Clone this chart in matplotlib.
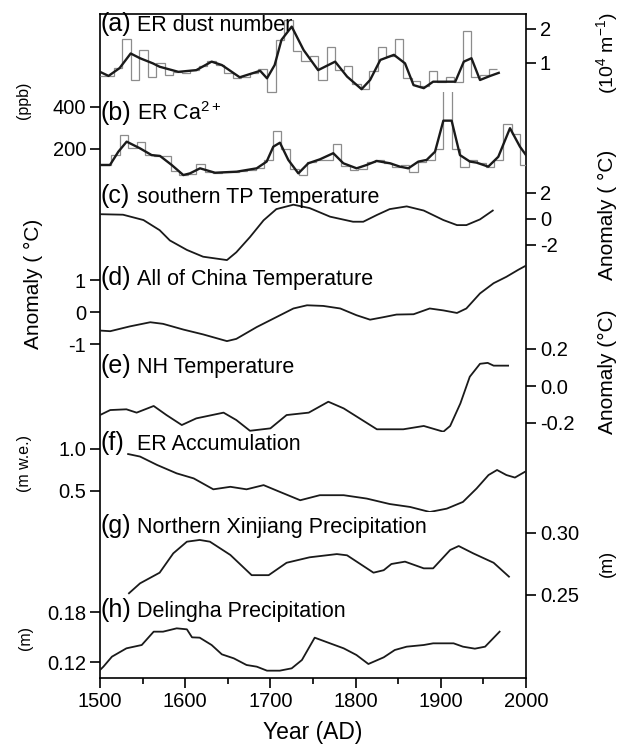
import matplotlib
matplotlib.use('Agg')

from matplotlib import pyplot as plt
from matplotlib.ticker import MultipleLocator

plt.rcParams['font.family'] = ['Liberation Sans', 'DejaVu Sans']
plt.rcParams['mathtext.fontset'] = 'custom'
plt.rcParams['mathtext.rm'] = 'Liberation Sans'
plt.rcParams['mathtext.default'] = 'regular'
plt.rcParams['axes.unicode_minus'] = False

# (a) ER dust number, decadal steps (10^4 m^-1) and smoothed curve
dust_edges = [1500, 1516, 1526, 1536, 1546, 1556, 1566, 1576, 1586, 1596,
              1606, 1616, 1626, 1636, 1646, 1656, 1666, 1676, 1686, 1696,
              1706, 1716, 1726, 1736, 1746, 1756, 1766, 1776, 1786, 1796,
              1806, 1816, 1826, 1836, 1846, 1856, 1866, 1876, 1886, 1896,
              1906, 1916, 1926, 1936, 1946, 1956, 1966]
dust_steps = [0.62, 0.84, 1.70, 0.50, 1.38, 0.60, 0.99, 0.65, 0.75, 0.72,
              0.80, 0.92, 1.06, 0.94, 0.72, 0.55, 0.60, 0.72, 0.82, 0.15,
              1.68, 2.27, 1.35, 1.05, 1.20, 0.51, 1.47, 0.79, 0.90, 0.37,
              0.25, 0.76, 1.47, 1.20, 1.72, 0.55, 0.46, 0.33, 0.76, 0.43,
              0.58, 0.43, 1.94, 0.60, 0.65, 0.83]
dust_years = [1500, 1510, 1523, 1536, 1547, 1562, 1570, 1592, 1613, 1631,
              1643, 1664, 1688, 1696, 1705, 1713, 1725, 1739, 1756, 1776,
              1790, 1807, 1817, 1829, 1845, 1858, 1868, 1880, 1891, 1917,
              1927, 1936, 1946, 1958, 1968]
dust_smooth = [0.74, 0.62, 0.85, 1.28, 1.14, 0.99, 0.89, 0.74, 0.79, 1.04,
               0.94, 0.58, 0.77, 0.55, 0.94, 1.68, 2.07, 1.38, 0.79, 1.04,
               0.60, 0.23, 0.50, 1.09, 1.24, 0.99, 0.35, 0.26, 0.45, 0.45,
               1.04, 1.14, 0.50, 0.62, 0.71]

# (b) ER Ca2+ (ppb)
ca_edges = [1500, 1513, 1523, 1533, 1543, 1553, 1563, 1573, 1583, 1593,
            1603, 1613, 1623, 1633, 1643, 1653, 1663, 1673, 1683, 1693,
            1703, 1713, 1723, 1733, 1743, 1753, 1763, 1773, 1783, 1793,
            1803, 1813, 1823, 1833, 1843, 1853, 1863, 1873, 1883, 1893,
            1903, 1913, 1923, 1933, 1943, 1953, 1963, 1973, 1983, 1993, 2000]
ca_steps = [124, 170, 265, 205, 232, 172, 168, 165, 95, 76,
            80, 128, 92, 88, 90, 92, 95, 100, 110, 150,
            285, 200, 105, 78, 140, 150, 150, 222, 120, 100,
            105, 140, 150, 135, 115, 125, 90, 140, 150, 200,
            530, 200, 115, 150, 135, 115, 150, 320, 270, 124]
ca_years = [1500, 1511.7, 1521.5, 1531.3, 1547, 1560.6, 1570.4, 1584.1, 1597.8, 1605.6,
            1617.4, 1635, 1660.4, 1683.9, 1695.6, 1703.4, 1711.2, 1721, 1732.8, 1744.5,
            1758.2, 1773.8, 1785.6, 1801.2, 1813, 1824.7, 1840.4, 1852, 1861.9, 1873.6,
            1883.4, 1893.2, 1903, 1912.7, 1922.5, 1934.2, 1942.1, 1955.7, 1967.5, 1981.2,
            1992.9, 2000]
ca_smooth = [124, 124, 187, 235, 203, 171, 167, 124, 76, 84,
             108, 87, 92, 108, 140, 211, 230, 148, 84, 132,
             151, 180, 132, 108, 124, 143, 132, 116, 108, 140,
             148, 187, 335, 335, 171, 140, 135, 116, 163, 299,
             211, 171]

# (c) southern TP temperature anomaly (degC)
tp_years = [1500, 1527, 1551, 1570, 1582, 1602, 1621, 1649, 1660, 1676,
            1692, 1707, 1727, 1746, 1770, 1797, 1809, 1825, 1840, 1860,
            1880, 1903, 1919, 1930, 1946, 1961]
tp_temp = [0.37, 0.33, -0.08, -0.86, -1.65, -2.38, -2.90, -3.16, -2.56, -1.39,
           -0.10, 0.76, 1.10, 0.84, 0.18, -0.21, -0.21, 0.31, 0.76, 0.97,
           0.65, -0.08, -0.47, -0.47, -0.03, 0.65]

# (d) All of China temperature anomaly (degC)
china_years = [1500, 1512, 1535, 1559, 1574, 1598, 1621, 1649, 1660, 1684,
               1707, 1727, 1743, 1762, 1782, 1801, 1817, 1833, 1848, 1868,
               1887, 1903, 1919, 1930, 1946, 1962, 1977, 1991, 2000]
china_temp = [-0.58, -0.60, -0.45, -0.32, -0.37, -0.55, -0.70, -0.91, -0.84, -0.47,
              -0.16, 0.11, 0.21, 0.19, 0.11, -0.10, -0.24, -0.16, -0.08, -0.07,
              0.11, 0.05, -0.03, 0.11, 0.58, 0.90, 1.10, 1.32, 1.45]

# (e) NH temperature anomaly (degC)
nh_years = [1500, 1512, 1531, 1543, 1563, 1578, 1596, 1613, 1645, 1660,
            1676, 1700, 1719, 1745, 1768, 1786, 1825, 1856, 1880, 1903,
            1911, 1923, 1934, 1946, 1955, 1962, 1979]
nh_temp = [-0.157, -0.13, -0.126, -0.144, -0.108, -0.157, -0.211, -0.175, -0.144, -0.184,
           -0.242, -0.229, -0.157, -0.144, -0.085, -0.121, -0.234, -0.234, -0.216, -0.247,
           -0.216, -0.094, 0.05, 0.12, 0.125, 0.11, 0.11]

# (f) ER accumulation (m w.e.)
acc_years = [1533, 1547, 1567, 1590, 1610, 1633, 1653, 1672, 1692, 1711,
             1735, 1758, 1786, 1813, 1840, 1864, 1887, 1907, 1926, 1942,
             1956, 1966, 1977, 1987, 1999]
acc_value = [0.94, 0.91, 0.81, 0.71, 0.65, 0.52, 0.55, 0.52, 0.57, 0.49,
             0.39, 0.45, 0.45, 0.41, 0.345, 0.31, 0.25, 0.29, 0.37, 0.53,
             0.69, 0.75, 0.69, 0.66, 0.73]

# (g) Northern Xinjiang precipitation (m)
xj_years = [1534, 1547, 1570, 1586, 1602, 1617, 1629, 1653, 1678, 1698,
            1719, 1746, 1778, 1790, 1821, 1833, 1842, 1858, 1880, 1891,
            1911, 1921, 1938, 1962, 1980]
xj_precip = [0.2514, 0.2594, 0.268, 0.2836, 0.293, 0.2944, 0.293, 0.2823, 0.266, 0.266,
             0.276, 0.2804, 0.283, 0.282, 0.268, 0.270, 0.275, 0.2769, 0.2715, 0.2715,
             0.2863, 0.2895, 0.2836, 0.276, 0.2648]

# (h) Delingha precipitation (m)
dl_years = [1500, 1504, 1514, 1531, 1549, 1563, 1574, 1590, 1602, 1608,
            1617, 1631, 1643, 1657, 1672, 1684, 1696, 1711, 1725, 1737,
            1752, 1770, 1786, 1801, 1815, 1833, 1846, 1860, 1880, 1891,
            1915, 1926, 1940, 1952, 1969]
dl_precip = [0.1104, 0.1144, 0.1264, 0.1364, 0.1404, 0.1564, 0.1564, 0.1604, 0.1592, 0.1496,
             0.1492, 0.1404, 0.1292, 0.1244, 0.1164, 0.1144, 0.1096, 0.1096, 0.1124, 0.1224,
             0.1492, 0.1424, 0.1364, 0.1284, 0.1176, 0.1256, 0.1344, 0.1384, 0.1404, 0.1424,
             0.1424, 0.1384, 0.136, 0.1384, 0.1564]

W, H, DPI = 629, 748, 100
LEFT, RIGHT, TOP, BOTTOM = 100, 526, 14, 678
TICK_FS = 14.5
LINE_W = 1.3


def rect(top, bottom):
    return [LEFT / W, 1 - bottom / H, (RIGHT - LEFT) / W, (bottom - top) / H]


fig = plt.figure(figsize=(W / DPI, H / DPI), dpi=DPI)

frame = fig.add_axes(rect(TOP, BOTTOM))
frame.set_xlim(1500, 2000)
frame.set_yticks([])
frame.xaxis.set_major_locator(MultipleLocator(100))
frame.xaxis.set_minor_locator(MultipleLocator(50))
frame.tick_params(axis='x', which='major', direction='out', length=7, width=1.2,
                  labelsize=TICK_FS, pad=3)
frame.tick_params(axis='x', which='minor', direction='out', length=4.5, width=1.2)
for sp in frame.spines.values():
    sp.set_linewidth(1.2)
frame.set_xlabel('Year (AD)', fontsize=16.5, labelpad=7)


def panel(top, bottom, ref, side, ticks, labels):
    """Transparent band over the frame; ref holds two (value, pixel row) pairs."""
    ax = fig.add_axes(rect(top, bottom))
    ax.set_xlim(1500, 2000)
    (v1, y1), (v2, y2) = ref
    slope = (v2 - v1) / (y2 - y1)
    ax.set_ylim(v1 + slope * (bottom - y1), v1 + slope * (top - y1))
    ax.patch.set_visible(False)
    for sp in ax.spines.values():
        sp.set_visible(False)
    ax.tick_params(axis='x', which='both', bottom=False, labelbottom=False)
    if side == 'right':
        ax.yaxis.tick_right()
    ax.set_yticks(ticks)
    ax.set_yticklabels(labels)
    ax.tick_params(axis='y', direction='out', length=7, width=1.2,
                   labelsize=TICK_FS, pad=3)
    return ax


def title(letter, name, baseline):
    y = 1 - baseline / H
    fig.text(101 / W, y, letter, fontsize=18, va='baseline', ha='left')
    fig.text(137 / W, y, name, fontsize=15.5, va='baseline', ha='left')


def side_label(text, x, y, size):
    fig.text(x / W, 1 - y / H, text, rotation=90, ha='center', va='center',
             fontsize=size)


ax_a = panel(TOP, 97, ((1, 63), (2, 29)), 'right', [1, 2], ['1', '2'])
ax_a.stairs(dust_steps, dust_edges, baseline=None, color='#8c8c8c', lw=0.9)
ax_a.plot(dust_years, dust_smooth, color='#1a1a1a', lw=1.7)

ax_b = panel(92, 180, ((200, 149), (400, 107)), 'left', [200, 400], ['200', '400'])
ax_b.stairs(ca_steps, ca_edges, baseline=None, color='#8c8c8c', lw=0.9)
ax_b.plot(ca_years, ca_smooth, color='#1a1a1a', lw=1.7)

ax_c = panel(180, 265, ((0, 219), (2, 193)), 'right', [-2, 0, 2], ['-2', '0', '2'])
ax_c.plot(tp_years, tp_temp, color='#1a1a1a', lw=LINE_W)

ax_d = panel(262, 355, ((0, 312), (1, 280)), 'left', [-1, 0, 1], ['-1', '0', '1'])
ax_d.plot(china_years, china_temp, color='#1a1a1a', lw=LINE_W)

ax_e = panel(340, 432, ((0, 386), (0.2, 349)), 'right', [-0.2, 0, 0.2],
             ['-0.2', '0.0', '0.2'])
ax_e.plot(nh_years, nh_temp, color='#1a1a1a', lw=LINE_W)

ax_f = panel(430, 512, ((1.0, 449), (0.5, 491)), 'left', [0.5, 1.0], ['0.5', '1.0'])
ax_f.plot(acc_years, acc_value, color='#1a1a1a', lw=LINE_W)

ax_g = panel(510, 600, ((0.30, 533), (0.25, 595)), 'right', [0.25, 0.30],
             ['0.25', '0.30'])
ax_g.plot(xj_years, xj_precip, color='#1a1a1a', lw=LINE_W)

ax_h = panel(598, BOTTOM, ((0.18, 612), (0.12, 662)), 'left', [0.12, 0.18],
             ['0.12', '0.18'])
ax_h.plot(dl_years, dl_precip, color='#1a1a1a', lw=LINE_W)

title('(a)', 'ER dust number', 31)
title('(b)', 'ER Ca$^{2+}$', 120)
title('(c)', 'southern TP Temperature', 203)
title('(d)', 'All of China Temperature', 285)
title('(e)', 'NH Temperature', 373)
title('(f)', 'ER Accumulation', 450)
title('(g)', 'Northern Xinjiang Precipitation', 533)
title('(h)', 'Delingha Precipitation', 617)

side_label('(10$^4$ m$^{-1}$)', 607, 53, 14)
side_label('Anomaly ( \u00b0C)', 607, 215, 15)
side_label('Anomaly (\u00b0C)', 607, 372, 15)
side_label('(m)', 607, 563, 13)
side_label('(ppb)', 24, 100, 11.5)
side_label('Anomaly ( \u00b0C)', 33, 284, 15)
side_label('(m w.e.)', 25, 463, 11.5)
side_label('(m)', 25, 638, 11.5)

fig.savefig('out.png', dpi=DPI)
